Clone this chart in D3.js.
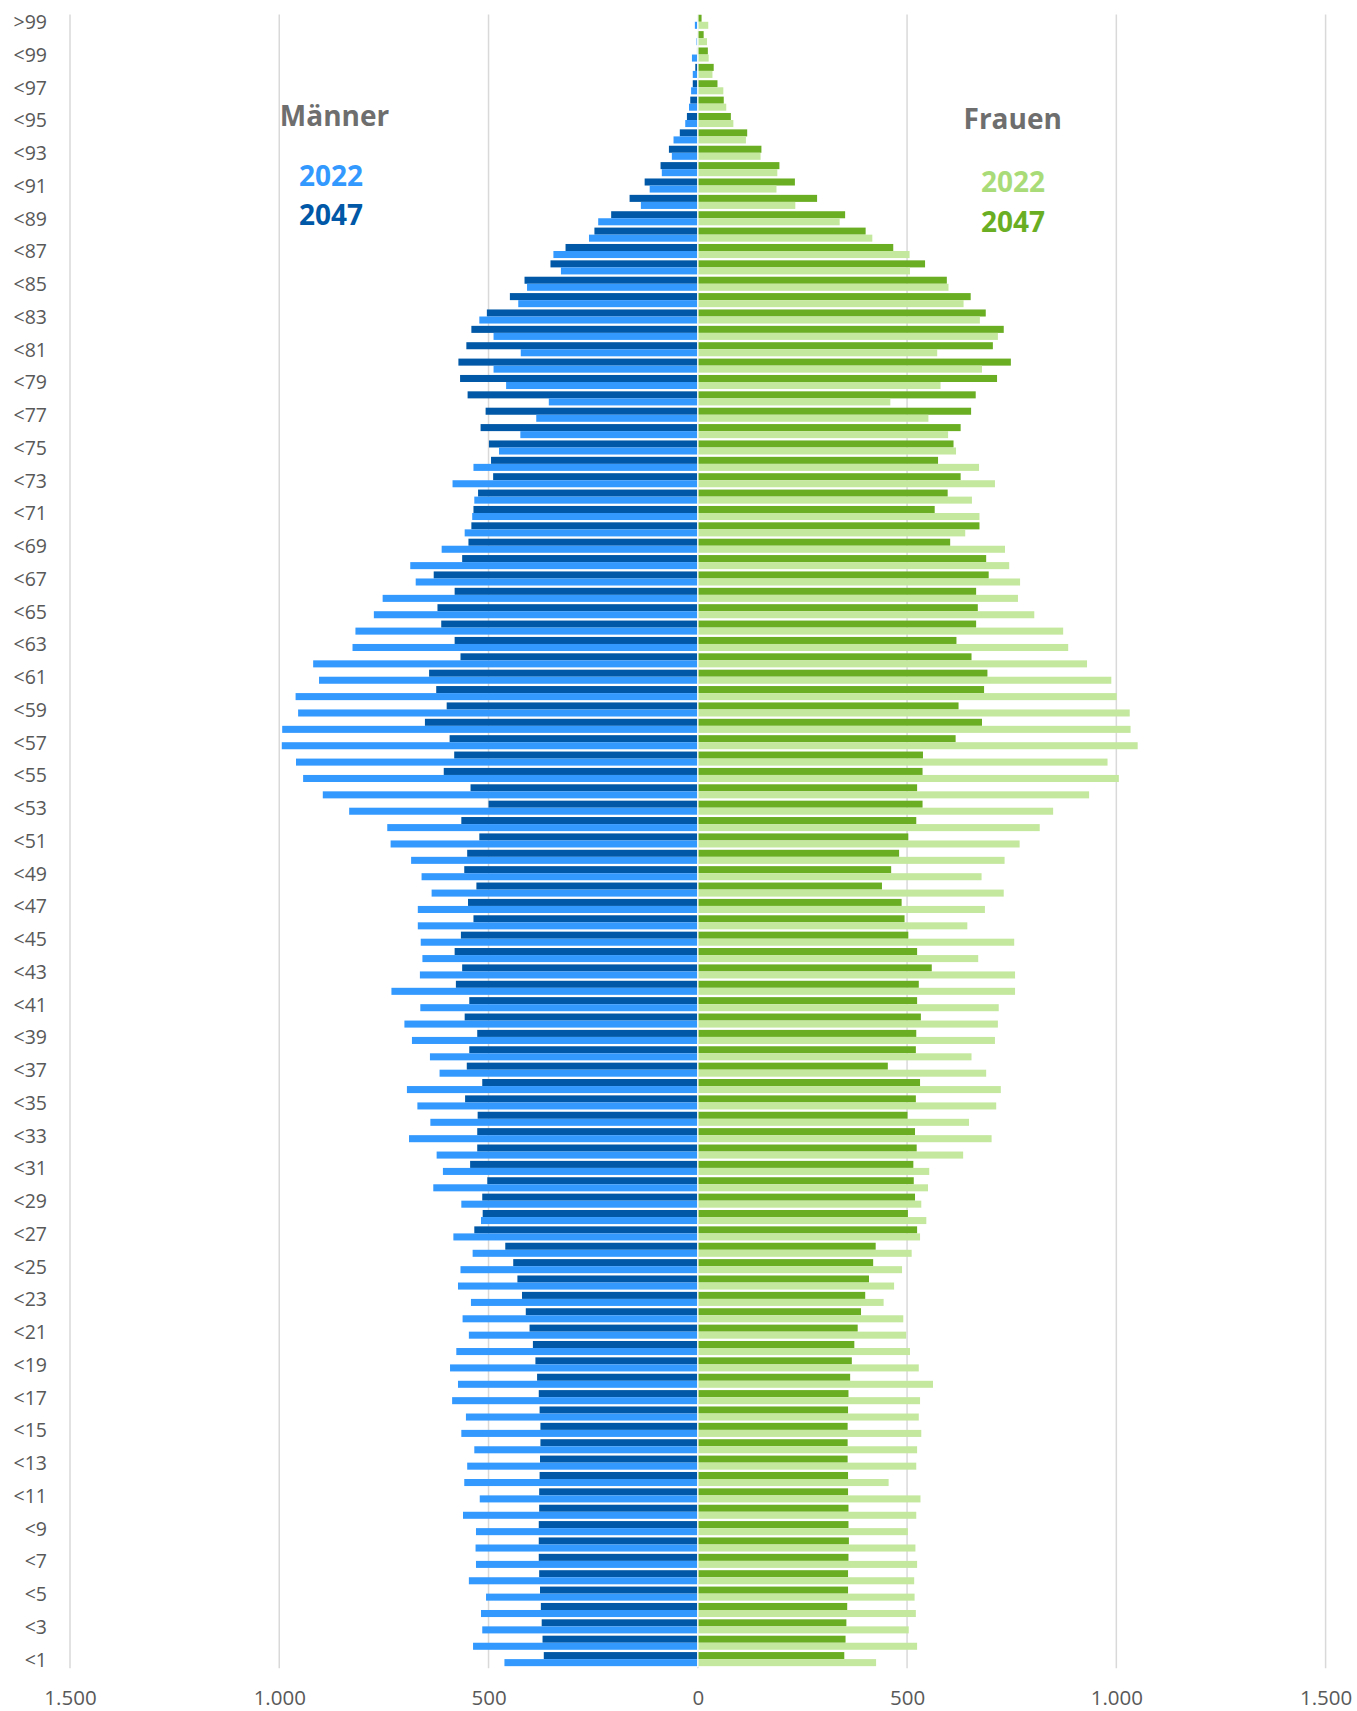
<!DOCTYPE html>
<html lang="de">
<head>
<meta charset="utf-8">
<title>Bevölkerungspyramide 2022 / 2047</title>
<script src="https://cdn.jsdelivr.net/npm/d3@7"></script>
<style>
  html, body { margin: 0; padding: 0; background: #fff; }
  svg { display: block; font-family: "Open Sans", "Liberation Sans", sans-serif; }
</style>
</head>
<body>
<svg id="chart"></svg>
<script>
// age classes, bottom to top: "<1" ... "<100", ">99"
const ages = d3.range(1, 101).map(n => "<" + n).concat([">99"]);

// only every second class is labelled
const ageTicks = ages.filter((d, i) => i % 2 === 0);
const xTicks = [-1500, -1000, -500, 0, 500, 1000, 1500];

// Männer 2022
const men2022 = [
  462, 537, 515, 518, 506, 547, 530, 531, 530, 561,
  521, 558, 551, 534, 565, 554, 587, 573, 592, 577,
  547, 562, 542, 573, 567, 538, 584, 518, 565, 632,
  609, 624, 690, 639, 670, 695, 617, 640, 683, 701,
  663, 732, 664, 658, 662, 669, 669, 636, 660, 685,
  734, 742, 833, 896, 943, 960, 994, 993, 955, 961,
  905, 919, 825, 818, 774, 753, 674, 687, 612, 557,
  539, 534, 586, 536, 475, 424, 386, 356, 458, 488,
  423, 488, 522, 429, 408, 327, 345, 260, 238, 136,
  115, 86, 62, 58, 30, 21, 16, 12, 14, 3,
  7
];

// Männer 2047
const men2047 = [
  368, 371, 373, 375, 377, 379, 380, 380, 380, 379,
  379, 378, 377, 376, 376, 378, 380, 384, 388, 394,
  402, 411, 420, 431, 441, 460, 534, 514, 515, 503,
  544, 527, 527, 526, 556, 515, 552, 546, 527, 557,
  546, 578, 563, 581, 566, 536, 549, 529, 558, 551,
  522, 565, 500, 543, 607, 582, 593, 652, 600, 625,
  642, 567, 581, 613, 622, 581, 631, 563, 548, 541,
  536, 525, 489, 494, 499, 519, 507, 550, 568, 572,
  553, 541, 504, 449, 414, 352, 316, 247, 207, 163,
  127, 89, 69, 43, 26, 18, 12, 6, 2, 1,
  1
];

// Frauen 2022
const women2022 = [
  426, 524, 504, 521, 518, 517, 524, 520, 502, 522,
  532, 456, 522, 524, 534, 528, 531, 562, 528, 507,
  498, 491, 444, 469, 488, 511, 531, 546, 534, 550,
  553, 634, 702, 648, 713, 724, 689, 654, 710, 717,
  719, 758, 758, 670, 756, 644, 686, 731, 678, 733,
  769, 817, 849, 935, 1006, 979, 1051, 1034, 1032, 1001,
  988, 930, 885, 873, 804, 765, 770, 744, 734, 639,
  673, 655, 710, 672, 617, 598, 551, 460, 580, 679,
  572, 717, 674, 635, 599, 507, 506, 417, 339, 233,
  188, 190, 150, 115, 85, 68, 61, 35, 26, 22,
  25
];

// Frauen 2047
const women2047 = [
  350, 353, 355, 357, 359, 359, 360, 361, 360, 360,
  359, 359, 358, 358, 358, 359, 360, 364, 368, 374,
  382, 390, 400, 409, 419, 425, 524, 502, 519, 516,
  515, 523, 519, 501, 521, 531, 454, 521, 522, 533,
  524, 528, 559, 524, 503, 494, 487, 440, 462, 481,
  503, 522, 537, 524, 537, 538, 616, 679, 623, 684,
  692, 654, 618, 665, 669, 665, 695, 689, 603, 673,
  566, 597, 628, 574, 611, 628, 653, 664, 715, 748,
  705, 731, 688, 652, 595, 543, 467, 401, 352, 285,
  232, 195, 152, 118, 79, 62, 47, 38, 24, 14,
  9
];

const width = 1357, height = 1711;
const plot = { left: 70, right: 1325.6, top: 13.6, bottom: 1667.3 };

const colors = {
  m2022: "#3399ff", m2047: "#0058a6",
  w2022: "#c5e89f", w2047: "#6aae23",
  grid: "#d9d9d9", text: "#595959", title: "#6e6e6e"
};

const series = [
  { year: "2047", side: -1, values: men2047, color: colors.m2047 },
  { year: "2022", side: -1, values: men2022, color: colors.m2022 },
  { year: "2047", side: 1, values: women2047, color: colors.w2047 },
  { year: "2022", side: 1, values: women2022, color: colors.w2022 }
];

// German number format, absolute values on both sides
const de = d3.formatLocale({ decimal: ",", thousands: ".", grouping: [3], currency: ["", " €"] });
const fmt = de.format(",");

const svg = d3.select("#chart")
  .attr("width", width)
  .attr("height", height);

const x = d3.scaleLinear()
  .domain([-1500, 1500])
  .range([plot.left, plot.right]);

const y = d3.scaleBand()
  .domain(ages.slice().reverse())
  .range([plot.top, plot.bottom])
  .paddingInner(0.14)
  .paddingOuter(0.07);

// 2047 sits above 2022 inside each class
const ySub = d3.scaleBand()
  .domain(["2047", "2022"])
  .range([0, y.bandwidth()]);

// vertical grid lines
svg.append("g")
  .attr("class", "grid")
  .selectAll("line")
  .data(xTicks)
  .join("line")
  .attr("x1", d => x(d))
  .attr("x2", d => x(d))
  .attr("y1", plot.top + 1)
  .attr("y2", plot.bottom + 1)
  .attr("stroke", colors.grid)
  .attr("stroke-width", 1.5);

// bars
series.forEach(s => {
  svg.append("g")
    .attr("class", "bars")
    .selectAll("rect")
    .data(s.values)
    .join("rect")
    .attr("x", d => s.side < 0 ? x(-d) : x(0))
    .attr("y", (d, i) => y(ages[i]) + ySub(s.year))
    .attr("width", d => Math.abs(x(s.side * d) - x(0)))
    .attr("height", ySub.bandwidth())
    .attr("fill", s.color);
});

// thin white split at zero
svg.append("line")
  .attr("x1", x(0))
  .attr("x2", x(0))
  .attr("y1", plot.top)
  .attr("y2", plot.bottom)
  .attr("stroke", "#fff")
  .attr("stroke-width", 1.4);

// category axis
const yAxisGroup = svg.append("g")
  .attr("class", "y-axis")
  .attr("transform", "translate(47,0)")
  .call(d3.axisLeft(y).tickValues(ageTicks).tickSize(0).tickPadding(0));

yAxisGroup.select(".domain").remove();
yAxisGroup.selectAll("text")
  .attr("dy", "0.38em")
  .style("font-family", "'Open Sans', sans-serif")
  .style("font-size", "19.5px")
  .style("fill", colors.text);

// value axis, kept just inside the bottom edge
const xAxisGroup = svg.append("g")
  .attr("class", "x-axis")
  .attr("transform", "translate(0,1690)")
  .call(d3.axisBottom(x).tickValues(xTicks).tickSize(0).tickPadding(0)
    .tickFormat(d => fmt(Math.abs(d))));

xAxisGroup.select(".domain").remove();
xAxisGroup.selectAll("text")
  .style("font-family", "'Open Sans', sans-serif")
  .style("font-size", "20.5px")
  .style("fill", colors.text);

// side titles and year legend
const labels = [
  { text: "Männer", x: 334.5, y: 126, color: colors.title },
  { text: "2022", x: 331, y: 186, color: colors.m2022 },
  { text: "2047", x: 331, y: 225, color: colors.m2047 },
  { text: "Frauen", x: 1012.7, y: 128.7, color: colors.title },
  { text: "2022", x: 1013, y: 191.7, color: "#a9dc78" },
  { text: "2047", x: 1013, y: 231.7, color: colors.w2047 }
];

svg.append("g")
  .attr("class", "legend")
  .selectAll("text")
  .data(labels)
  .join("text")
  .attr("x", d => d.x)
  .attr("y", d => d.y)
  .attr("text-anchor", "middle")
  .style("font-size", "28px")
  .style("font-weight", "bold")
  .style("fill", d => d.color)
  .text(d => d.text);
</script>
</body>
</html>
